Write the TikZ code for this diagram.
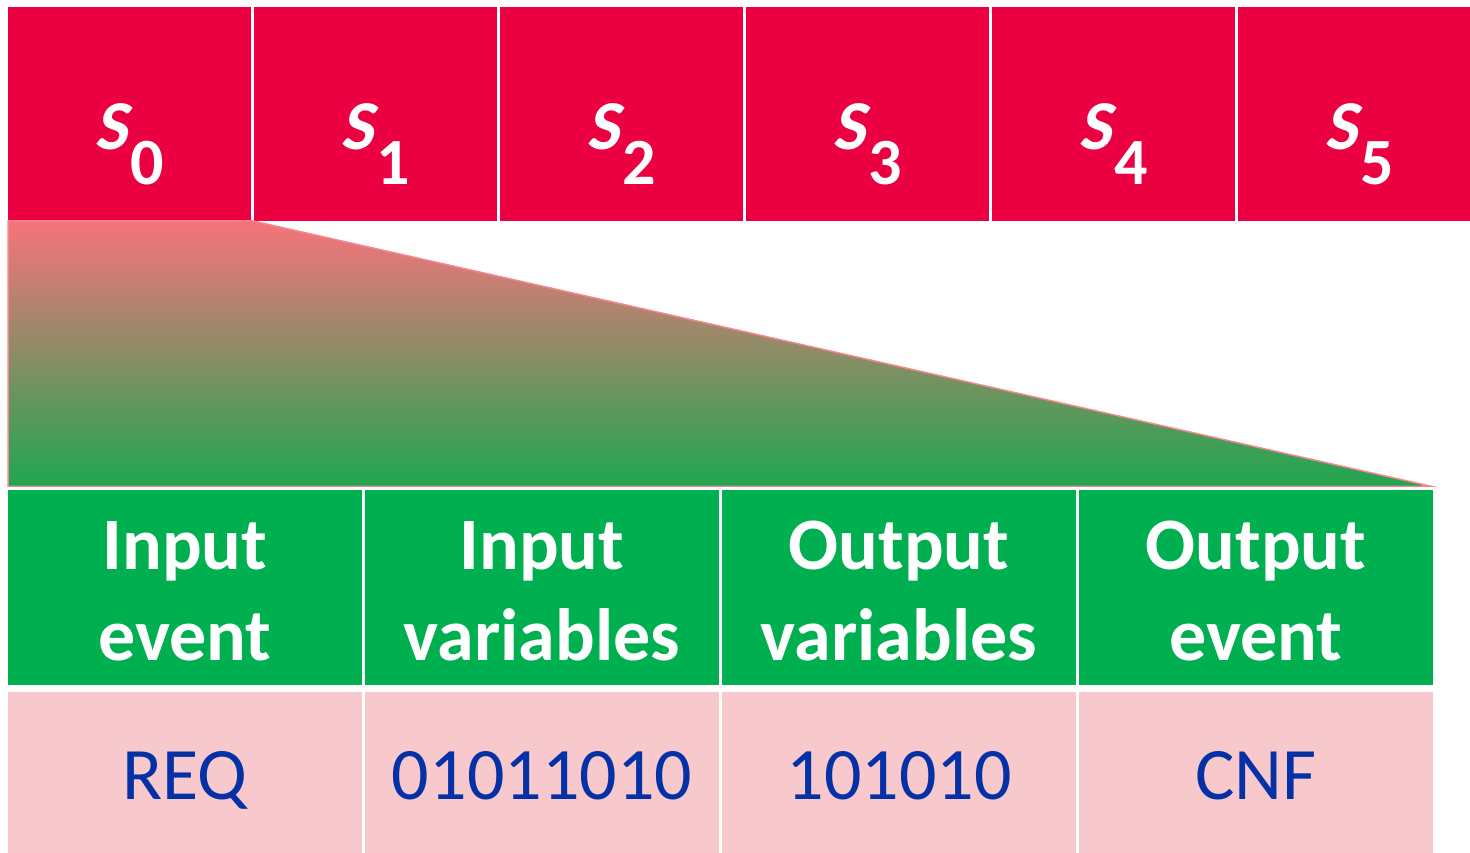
\documentclass[tikz,border=0pt]{standalone}
\usepackage{fontspec}
\setmainfont{Carlito}
\newfontfamily\stateS{Carlito}[UprightFont=* Bold, FakeSlant=0.2]
\definecolor{statered}{HTML}{EB0042}
\definecolor{headgreen}{HTML}{00AF50}
\definecolor{valpink}{HTML}{F7C9CD}
\definecolor{valblue}{HTML}{0432A6}
\definecolor{zoomtop}{HTML}{F7737C}
\definecolor{zoombot}{HTML}{1FA650}
\definecolor{zoomedge}{HTML}{F4888E}
\begin{document}
\begin{tikzpicture}[x=1pt,y=1pt,
  cell/.style={rectangle, draw=white, line width=3pt, inner sep=0pt, outer sep=0pt},
  statecell/.style={cell, fill=statered, minimum width=246pt, minimum height=217pt},
  headcell/.style={cell, fill=headgreen, minimum width=357pt, minimum height=198pt},
  valcell/.style={cell, fill=valpink, minimum width=357pt, minimum height=164pt},
  headtext/.style={text=white, align=center, inner sep=0pt,
    font=\fontsize{74}{91}\selectfont\bfseries},
  valtext/.style={text=valblue, anchor=base, inner sep=0pt,
    font=\fontsize{74}{88}\selectfont},
  statelabel/.style={anchor=base, text=white, inner sep=0pt,
    font=\fontsize{70}{80}\selectfont\bfseries}
]
\useasboundingbox (0,0) rectangle (1470,853);

% row of states
\foreach \i/\x in {0/129.5,1/375.5,2/621.5,3/867.5,4/1113.5,5/1359.25} {
  \node[statecell] (s\i) at (\x,739) {};
  \node[statelabel] (l\i) at (\x,703)
    {{\stateS S}\kern3pt\raisebox{-35pt}{\fontsize{66}{80}\selectfont\i}};
}

% zoom wedge from the first state down to the table
\path[draw=zoomedge, line width=1.5pt, top color=zoomtop, bottom color=zoombot]
  (8,632) -- (253,632) -- (1432,366.5) -- (8,366.5) -- cycle;

% header row
\foreach \n/\x/\t in {1/185/{Input\\event}, 2/542/{Input\\variables},
                      3/899/{Output\\variables}, 4/1256/{Output\\event}} {
  \node[headcell] (h\n) at (\x,265.5) {};
  \node[headtext] (ht\n) at ([yshift=-4pt]h\n.center) {\t};
}

% value row
\foreach \n/\x/\t in {1/185/REQ, 2/542/01011010, 3/899/101010, 4/1256/CNF} {
  \node[valcell] (v\n) at (\x,80.5) {};
  \node[valtext] (vt\n) at (\x,53) {\t};
}
\end{tikzpicture}
\end{document}
